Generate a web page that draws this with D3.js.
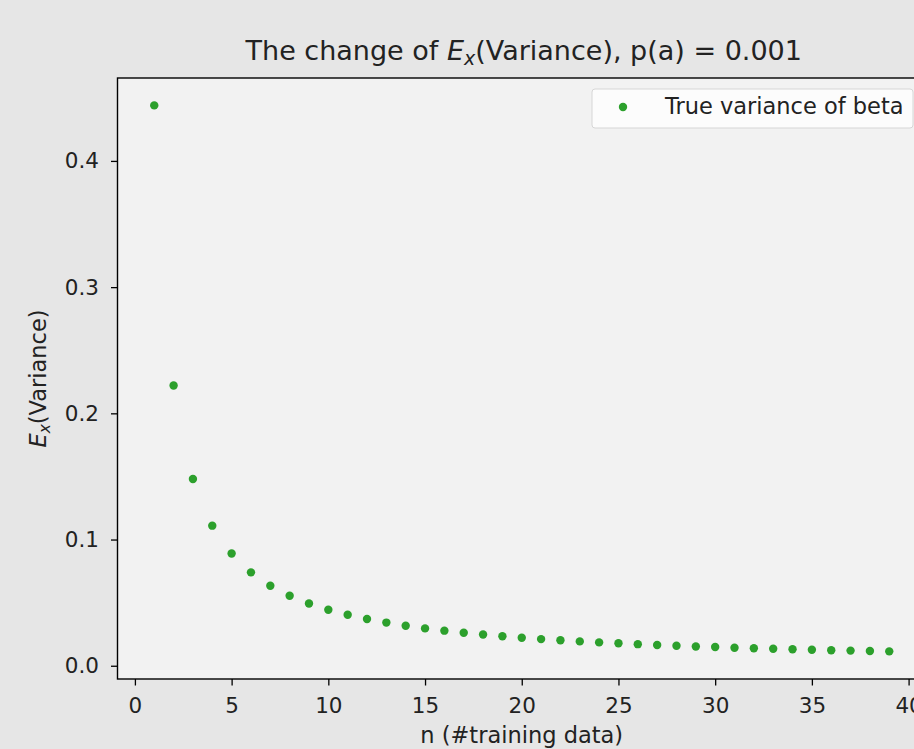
<!DOCTYPE html>
<html>
<head>
<meta charset="utf-8">
<script src="https://cdn.jsdelivr.net/npm/d3@7"></script>
<style>
  body { margin: 0; background: #e6e6e6; }
  svg { display: block; font-family: "DejaVu Sans", sans-serif; }
</style>
</head>
<body>
<svg id="chart"></svg>
<script>
// n (#training data) and the variance
const nValues = d3.range(1, 40);
const variance = [
  0.444, 0.222, 0.148, 0.111, 0.0889, 0.0740, 0.0634, 0.0555, 0.0493, 0.0444,
  0.0404, 0.0370, 0.0342, 0.0317, 0.0296, 0.0278, 0.0261, 0.0247, 0.0234, 0.0222,
  0.0211, 0.0202, 0.0193, 0.0185, 0.0178, 0.0171, 0.0164, 0.0159, 0.0153, 0.0148,
  0.0143, 0.0139, 0.0135, 0.0131, 0.0127, 0.0123, 0.0120, 0.0117, 0.0114
];
const xTicks = [0, 5, 10, 15, 20, 25, 30, 35, 40];
const yTicks = [0.0, 0.1, 0.2, 0.3, 0.4];
const legendLabel = "True variance of beta";

const width = 914, height = 749;
const green = "#2ca02c";

const svg = d3.select("svg#chart")
  .attr("width", width)
  .attr("height", height);

svg.append("rect")
  .attr("width", width).attr("height", height)
  .attr("fill", "#e6e6e6");

const plot = { left: 117.5, right: 926, top: 78, bottom: 679 };

const x = d3.scaleLinear().domain([-0.9, 40.9]).range([plot.left, plot.right]);
const y = d3.scaleLinear().domain([-0.0105, 0.4657]).range([plot.bottom, plot.top]);

// plot background
svg.append("rect")
  .attr("x", plot.left).attr("y", plot.top)
  .attr("width", plot.right - plot.left)
  .attr("height", plot.bottom - plot.top)
  .attr("fill", "#f2f2f2");

// points
svg.append("g")
  .selectAll("circle")
  .data(nValues.map((n, i) => [n, variance[i]]))
  .join("circle")
  .attr("cx", d => x(d[0]))
  .attr("cy", d => y(d[1]))
  .attr("r", 4.2)
  .attr("fill", green);

// axes
const xAxis = svg.append("g")
  .attr("transform", "translate(0," + plot.bottom + ")")
  .call(d3.axisBottom(x).tickValues(xTicks).tickFormat(d3.format("d")).tickSize(6.5).tickPadding(12));
const yAxis = svg.append("g")
  .attr("transform", "translate(" + plot.left + ",0)")
  .call(d3.axisLeft(y).tickValues(yTicks).tickFormat(d3.format(".1f")).tickSize(6.5).tickPadding(12));

[xAxis, yAxis].forEach(ax => {
  ax.select(".domain").remove();
  ax.selectAll(".tick line").attr("stroke", "#000").attr("stroke-width", 1.3);
  ax.selectAll(".tick text")
    .attr("font-family", "DejaVu Sans, sans-serif")
    .attr("font-size", 21.5)
    .attr("fill", "#222");
});

// spines
svg.append("rect")
  .attr("x", plot.left).attr("y", plot.top)
  .attr("width", plot.right - plot.left)
  .attr("height", plot.bottom - plot.top)
  .attr("fill", "none")
  .attr("stroke", "#000")
  .attr("stroke-width", 1.4);

// title with E_x
const title = svg.append("text")
  .attr("x", (plot.left + plot.right) / 2 + 2)
  .attr("y", 60)
  .attr("text-anchor", "middle")
  .attr("font-size", 27)
  .attr("fill", "#222");
title.append("tspan").text("The change of ");
title.append("tspan").attr("font-style", "italic").text("E");
title.append("tspan").attr("font-style", "italic").attr("font-size", 19).attr("dy", 5).text("x");
title.append("tspan").attr("dy", -5).text("(Variance), p(a) = 0.001");

// x label
svg.append("text")
  .attr("x", (plot.left + plot.right) / 2)
  .attr("y", 743)
  .attr("text-anchor", "middle")
  .attr("font-size", 22.5)
  .attr("fill", "#222")
  .text("n (#training data)");

// y label
const yl = svg.append("text")
  .attr("transform", "translate(46," + ((plot.top + plot.bottom) / 2) + ") rotate(-90)")
  .attr("text-anchor", "middle")
  .attr("font-size", 22.5)
  .attr("fill", "#222");
yl.append("tspan").attr("font-style", "italic").text("E");
yl.append("tspan").attr("font-style", "italic").attr("font-size", 15.5).attr("dy", 4).text("x");
yl.append("tspan").attr("dy", -4).text("(Variance)");

// legend
const legend = svg.append("g");
legend.append("rect")
  .attr("x", 592).attr("y", 89)
  .attr("width", 321).attr("height", 39)
  .attr("rx", 3)
  .attr("fill", "#fcfcfc")
  .attr("stroke", "#d6d6d6")
  .attr("stroke-width", 1);
legend.append("circle")
  .attr("cx", 623).attr("cy", 107)
  .attr("r", 4.2)
  .attr("fill", green);
legend.append("text")
  .attr("x", 665).attr("y", 114)
  .attr("font-size", 22.5)
  .attr("fill", "#222")
  .text(legendLabel);
</script>
</body>
</html>
